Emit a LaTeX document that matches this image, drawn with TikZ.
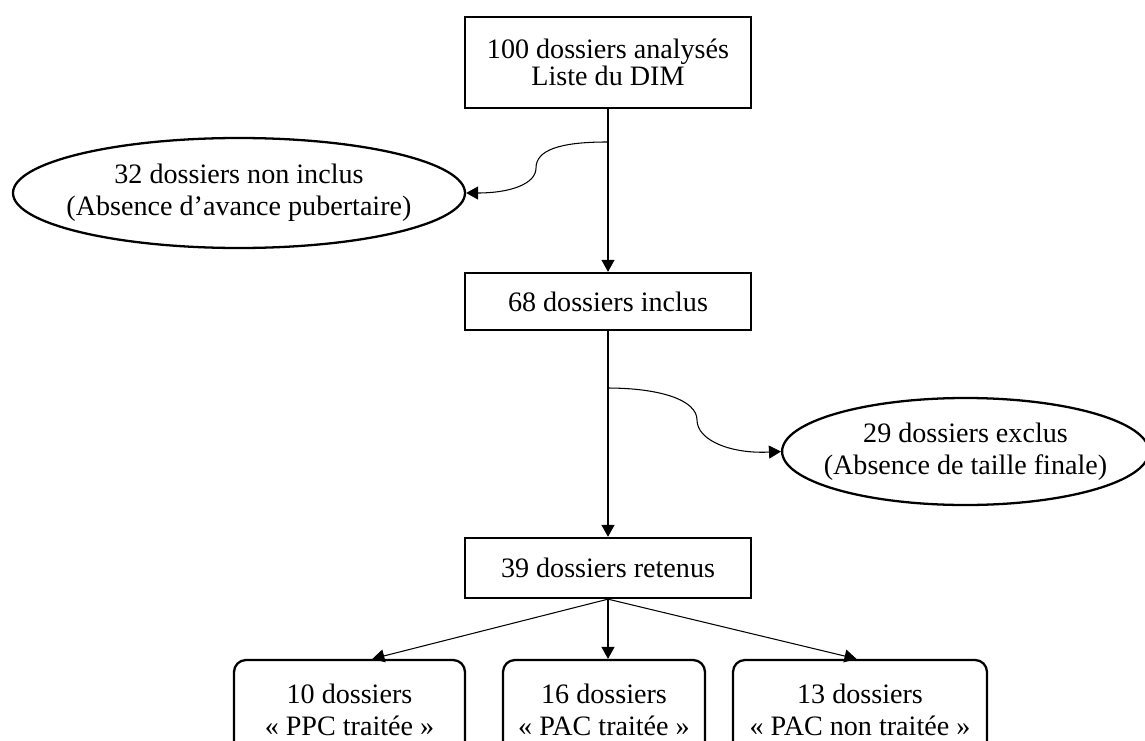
\documentclass[tikz,border=0pt]{standalone}
\usepackage{fontspec}
\setmainfont{Liberation Serif}
\usetikzlibrary{arrows.meta,shapes.geometric}
\tikzset{
	box/.style={draw, line width=1.3pt, rectangle, minimum width=57.2mm, inner sep=0pt, align=center, font=\fontsize{16pt}{18pt}\selectfont},
	ovalbox/.style={draw, line width=1.3pt, ellipse, inner ysep=0pt, align=center, font=\fontsize{16pt}{18pt}\selectfont},
	groupbox/.style={draw, line width=1.3pt, rectangle, rounded corners=2.4mm, minimum height=20mm, inner sep=0pt, align=center, font=\fontsize{16pt}{18pt}\selectfont},
	link/.style={line width=0.6pt, -{Triangle[width=2.6mm,length=2.4mm]}}
}

\begin{document}
\begin{tikzpicture}[x=0.2mm, y=0.2mm]
			%%%%% START %%%%%
			
			\clip (0, 0) rectangle (1145, -740);
			
			\node[box, minimum height=18.2mm] (dim) at (608, -62.5) {100 dossiers analysés\\[-3pt]Liste du DIM};
			\node[box, minimum height=11.4mm] (incl) at (608, -301.5) {68 dossiers inclus};
			\node[box, minimum height=12mm] (ret) at (608, -568) {39 dossiers retenus};
			
			\node[ovalbox, inner xsep=-3mm, minimum width=90.4mm, minimum height=22mm] (noninc) at (239, -193) {32 dossiers non inclus\\(Absence d’avance pubertaire)};
			\node[ovalbox, inner xsep=-2.4mm, minimum width=71mm, minimum height=21.4mm] (excl) at (965.5, -451.5) {29 dossiers exclus\\(Absence de taille finale)};
			
			\node[groupbox, minimum width=46.2mm] (ppc) at (349.5, -710) {10 dossiers\\« PPC traitée »};
			\node[groupbox, minimum width=40.4mm] (pac) at (604, -710) {16 dossiers\\« PAC traitée »};
			\node[groupbox, minimum width=50.8mm] (pacnt) at (860, -710) {13 dossiers\\« PAC non traitée »};
			
			\draw[link] (dim) -- (incl);
			\draw[link] (incl) -- (ret);
			
			\coordinate (split1) at (607, -142);
			\coordinate (split2) at (607, -388);
			\draw[link] (split1) .. controls (560, -142) and (536, -150) .. (536, -168) .. controls (536, -184) and (510, -193) .. (noninc.east);
			\draw[link] (split2) .. controls (660, -388) and (697, -400) .. (697, -420) .. controls (697, -440) and (730, -454) .. (excl.west);
			
			\draw[link] (ret.south) -- ([xshift=13]ppc.north);
			\draw[link] (ret.south) -- (ret.south |- pac.north);
			\draw[link] (ret.south) -- ([xshift=-2]pacnt.north);
			
			%%%%% END %%%%%
		\end{tikzpicture}
\end{document}
